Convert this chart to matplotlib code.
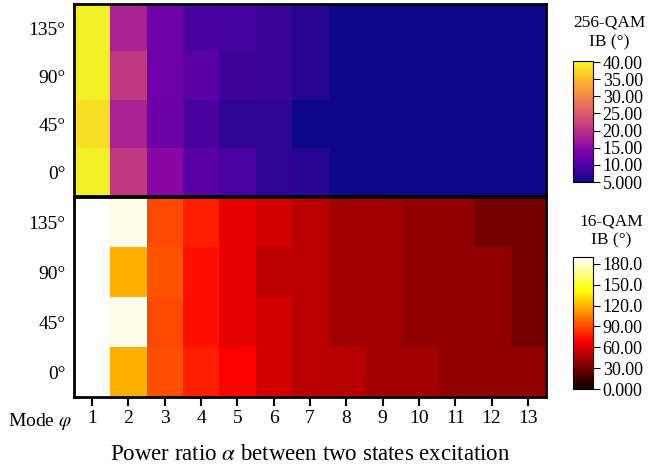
import numpy as np
import matplotlib
matplotlib.use("Agg")
import matplotlib.pyplot as plt
from matplotlib.ticker import FuncFormatter

plt.rcParams['font.family'] = ['Liberation Serif', 'DejaVu Serif']
plt.rcParams['mathtext.fontset'] = 'stix'

# power ratio index (x) and mode angle (rows, bottom to top)
alpha = list(range(1, 14))
modes = ['0°', '45°', '90°', '135°']

# 256-QAM IB (deg), one list per mode
qam256_0 = [39.5, 21.0, 14.8, 10.6, 9.3, 7.1, 6.7, 5, 5, 5, 5, 5, 5]
qam256_45 = [38.0, 18.3, 12.3, 9.2, 7.1, 7.1, 5.0, 5, 5, 5, 5, 5, 5]
qam256_90 = [39.7, 21.0, 12.4, 10.6, 8.2, 8.0, 6.7, 5, 5, 5, 5, 5, 5]
qam256_135 = [39.7, 18.3, 12.4, 9.2, 8.8, 8.0, 6.7, 5, 5, 5, 5, 5, 5]

# 16-QAM IB (deg)
qam16_0 = [190, 119, 92, 78, 69, 57, 50, 49, 43.5, 43.5, 39, 39, 39]
qam16_45 = [190, 185, 90, 74, 63, 57, 50, 43.5, 43.5, 39, 39, 39, 30.5]
qam16_90 = [190, 119, 93, 74, 63, 50, 50, 43.5, 43.5, 39, 39, 39, 30.5]
qam16_135 = [190, 185, 90, 78, 63, 57, 50, 43.5, 43.5, 39, 39, 30.5, 30.5]

top = np.array([qam256_0, qam256_45, qam256_90, qam256_135])
bot = np.array([qam16_0, qam16_45, qam16_90, qam16_135])


def fmt(v, pos):
    if abs(v) >= 100:
        return f"{v:.1f}"
    if abs(v) >= 10:
        return f"{v:.2f}"
    return f"{v:.3f}"


fig = plt.figure(figsize=(6.5, 4.72), dpi=100)
ax1 = fig.add_axes([0.1138, 0.5847, 0.7262, 0.4068])
ax2 = fig.add_axes([0.1138, 0.1589, 0.7262, 0.4237])

ext = [0.5, 13.5, -0.5, 3.5]
im1 = ax1.imshow(top, cmap='plasma', vmin=5, vmax=40.3, origin='lower',
                 aspect='auto', extent=ext, interpolation='nearest')
im2 = ax2.imshow(bot, cmap='hot', vmin=0, vmax=190, origin='lower',
                 aspect='auto', extent=ext, interpolation='nearest')

for ax in (ax1, ax2):
    ax.set_yticks(range(4))
    ax.set_yticklabels(modes, fontsize=14)
    ax.tick_params(axis='y', length=0, pad=6)
    for s in ax.spines.values():
        s.set_linewidth(2)

ax1.set_xticks([])
ax2.set_xticks(alpha)
ax2.set_xticklabels([str(a) for a in alpha], fontsize=14)
ax2.tick_params(axis='x', length=6.5, width=1.5, pad=3)
ax2.set_xlabel(r'Power ratio $\alpha$ between two states excitation',
               fontsize=16.5)
ax2.xaxis.label.set_va('center')
ax2.xaxis.set_label_coords(0.5, -0.29)
fig.text(0.012, 0.108, r'Mode $\varphi$', fontsize=14, va='center')

cax1 = fig.add_axes([0.8815, 0.6144, 0.0308, 0.2564])
cax2 = fig.add_axes([0.8815, 0.1758, 0.0308, 0.2797])
cb1 = fig.colorbar(im1, cax=cax1, ticks=np.arange(5, 41, 5))
cb2 = fig.colorbar(im2, cax=cax2, ticks=np.arange(0, 181, 30))
for cb in (cb1, cb2):
    cb.ax.yaxis.set_major_formatter(FuncFormatter(fmt))
    cb.ax.tick_params(labelsize=13, length=5, width=0.8, pad=2)
    cb.outline.set_linewidth(0.8)

fig.text(0.937, 0.932, '256-QAM\nIB (°)', ha='center', va='center',
         fontsize=12.5, linespacing=1.3)
fig.text(0.94, 0.511, '16-QAM\nIB (°)', ha='center', va='center',
         fontsize=12.5, linespacing=1.3)

fig.savefig('out.png', dpi=100)
